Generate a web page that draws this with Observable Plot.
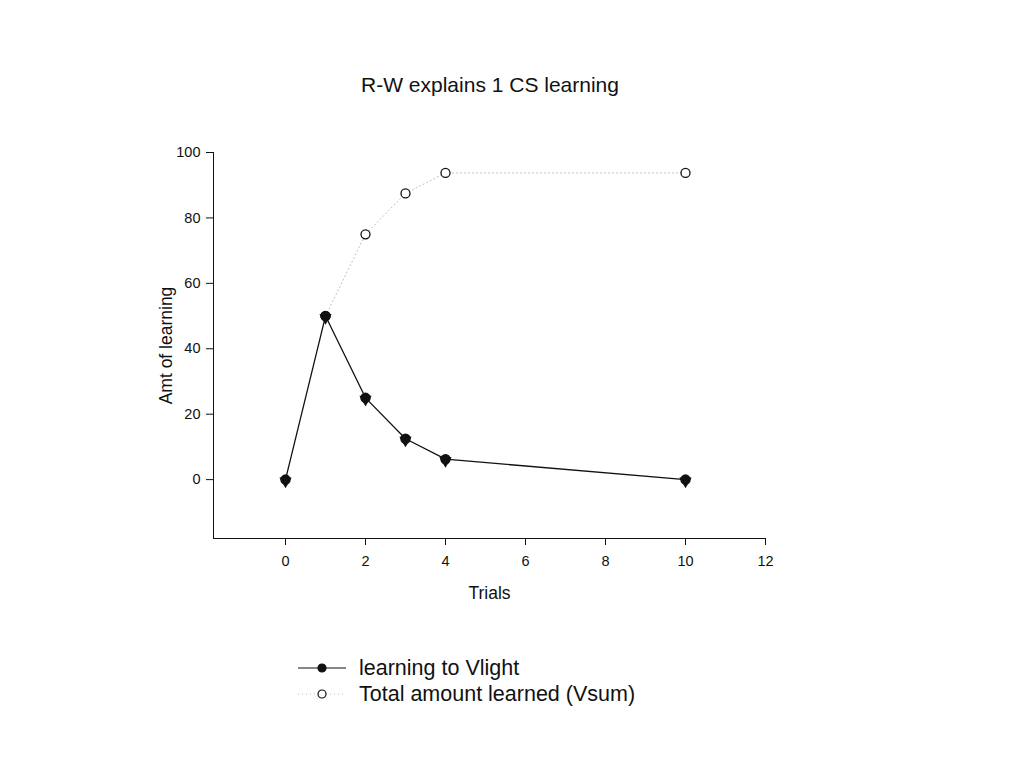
<!DOCTYPE html>
<html>
<head>
<meta charset="utf-8">
<script src="https://cdn.jsdelivr.net/npm/d3@7"></script>
<script src="https://cdn.jsdelivr.net/npm/@observablehq/plot@0.6"></script>
<style>
  body { margin: 0; background: #fff; font-family: "Liberation Sans", Arial, sans-serif; }
  #wrap { position: relative; width: 1024px; height: 768px; }
  #title { position: absolute; left: 0; width: 980px; top: 73px; text-align: center; font-size: 21px; color: #111; }
  #legend { position: absolute; left: 296px; top: 655px; font-size: 21.5px; color: #111; }
  .row { display: flex; align-items: center; height: 26px; }
  .row svg { margin-right: 11px; }
</style>
</head>
<body>
<div id="wrap">
  <div id="chart"></div>
  <div id="title">R-W explains 1 CS learning</div>
  <div id="legend"></div>
</div>
<script>
const trials = [0, 1, 2, 3, 4, 10];
const vLight = [0, 50, 25, 12.5, 6.25, 0];
const vsumTrials = [1, 2, 3, 4, 10];
const vSum = [50, 75, 87.5, 93.75, 93.75];
const xTicks = [0, 2, 4, 6, 8, 10, 12];
const yTicks = [0, 20, 40, 60, 80, 100];
const seriesNames = ["learning to Vlight", "Total amount learned (Vsum)"];

const light = trials.map((t, i) => ({x: t, y: vLight[i]}));
const sum = vsumTrials.map((t, i) => ({x: t, y: vSum[i]}));

const chart = Plot.plot({
  width: 1024,
  height: 768,
  marginLeft: 213,
  marginRight: 259,
  marginTop: 152,
  marginBottom: 230,
  style: {fontFamily: '"Liberation Sans", Arial, sans-serif', fontSize: "14.5px", color: "#111", background: "#fff"},
  x: {domain: [-1.8, 12]},
  y: {domain: [-18, 100]},
  marks: [
    Plot.ruleX([-1.8], {y1: -18, y2: 100, stroke: "#111"}),
    Plot.ruleY([-18], {x1: -1.8, x2: 12, stroke: "#111"}),
    Plot.axisX({ticks: xTicks, tickSize: 7, tickPadding: 10, fontSize: 14.5, label: "Trials", labelAnchor: "center", labelArrow: "none", labelOffset: 60}),
    Plot.axisY({ticks: yTicks, tickSize: 7, tickPadding: 6, fontSize: 14.5, label: "Amt of learning", labelAnchor: "center", labelArrow: "none", labelOffset: 54}),
    Plot.line(sum, {x: "x", y: "y", stroke: "#bbb", strokeWidth: 1, strokeDasharray: "1,3"}),
    Plot.dot(sum, {x: "x", y: "y", r: 4.5, stroke: "#111", fill: "#fff", strokeWidth: 1.3}),
    Plot.line(light, {x: "x", y: "y", stroke: "#111", strokeWidth: 1.3}),
    Plot.dot(light, {x: "x", y: "y", r: 4.5, fill: "#111", stroke: "#111"}),
    Plot.dot(light, {x: "x", y: "y", symbol: "triangle", rotate: 180, r: 3.6, dy: 1.5, fill: "#111", stroke: "#111"})
  ]
});
chart.querySelectorAll('[aria-label="x-axis label"] text, [aria-label="y-axis label"] text').forEach(t => t.setAttribute("font-size", "17.5"));
document.getElementById("chart").appendChild(chart);

// legend
const legend = document.getElementById("legend");
seriesNames.forEach((name, i) => {
  const row = document.createElement("div");
  row.className = "row";
  const ns = "http://www.w3.org/2000/svg";
  const svg = document.createElementNS(ns, "svg");
  svg.setAttribute("width", 52); svg.setAttribute("height", 14);
  const ln = document.createElementNS(ns, "line");
  ln.setAttribute("x1", 2); ln.setAttribute("x2", 50); ln.setAttribute("y1", 7); ln.setAttribute("y2", 7);
  ln.setAttribute("stroke", i === 0 ? "#111" : "#bbb");
  if (i === 1) ln.setAttribute("stroke-dasharray", "1,3");
  svg.appendChild(ln);
  const c = document.createElementNS(ns, "circle");
  c.setAttribute("cx", 26); c.setAttribute("cy", 7); c.setAttribute("r", 4);
  c.setAttribute("fill", i === 0 ? "#111" : "#fff"); c.setAttribute("stroke", "#111"); c.setAttribute("stroke-width", 1.2);
  svg.appendChild(c);
  row.appendChild(svg);
  const span = document.createElement("span");
  span.textContent = name;
  row.appendChild(span);
  legend.appendChild(row);
});
</script>
</body>
</html>
